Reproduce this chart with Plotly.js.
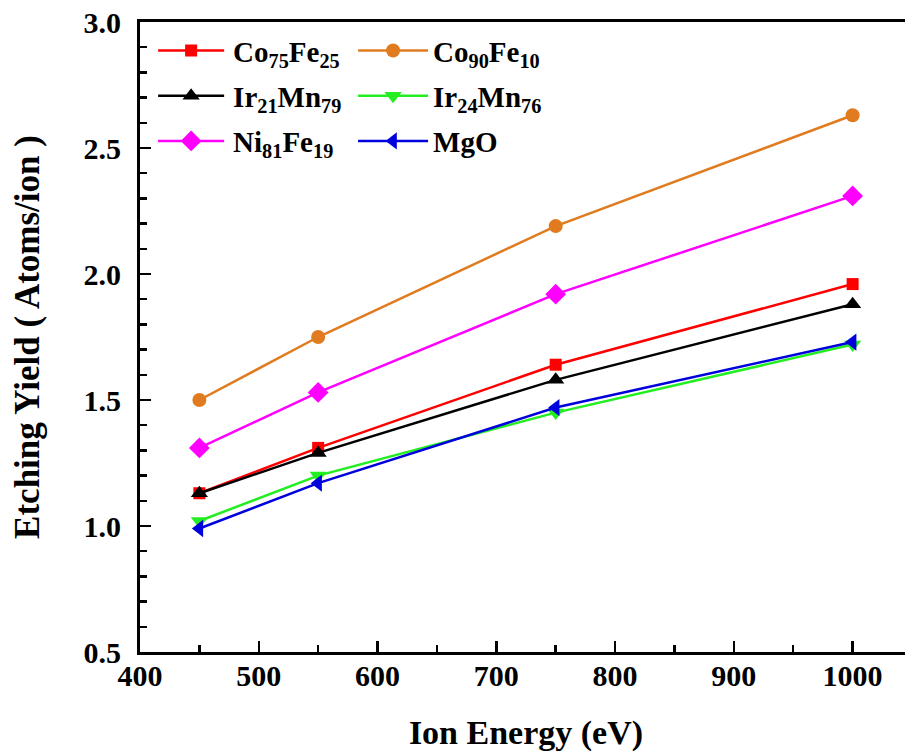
<!DOCTYPE html>
<html>
<head>
<meta charset="utf-8">
<script src="https://cdn.plot.ly/plotly-3.0.1.min.js"></script>
<style>
  html, body { margin: 0; padding: 0; overflow: hidden; background: #fff; }
  #chart { width: 920px; height: 756px; }
</style>
</head>
<body>
<div id="chart"></div>
<script>
// Ion energy (eV) at which the etching yield was measured
const ionEnergy = [450, 550, 750, 1000];

// Etching yield (atoms/ion) for each material
const co75fe25 = [1.13, 1.31, 1.64, 1.96];
const co90fe10 = [1.50, 1.75, 2.19, 2.63];
const ir21mn79 = [1.13, 1.29, 1.58, 1.88];
const ir24mn76 = [1.02, 1.20, 1.45, 1.72];
const ni81fe19 = [1.31, 1.53, 1.92, 2.31];
const mgo      = [0.99, 1.17, 1.47, 1.73];

const FONT = 'Liberation Serif';

function series(name, y, color, symbol, legend, size) {
  return {
    x: ionEnergy, y: y, name: name, type: 'scatter', mode: 'lines+markers',
    line: { color: color, width: 2.5 },
    marker: { color: color, symbol: symbol, size: size },
    legend: legend, legendgroup: name
  };
}

const traces = [
  series('Co<sub>75</sub>Fe<sub>25</sub>', co75fe25, '#ff0000', 'square', 'legend', 12),
  series('Ir<sub>21</sub>Mn<sub>79</sub>', ir21mn79, '#000000', 'triangle-up', 'legend', 15),
  series('Ni<sub>81</sub>Fe<sub>19</sub>', ni81fe19, '#ff00ff', 'diamond', 'legend', 16),
  series('Co<sub>90</sub>Fe<sub>10</sub>', co90fe10, '#e07b1f', 'circle', 'legend2', 14),
  series('Ir<sub>24</sub>Mn<sub>76</sub>', ir24mn76, '#22ee22', 'triangle-down', 'legend2', 15),
  series('MgO', mgo, '#0000dd', 'triangle-left', 'legend2', 15)
];

const legendStyle = {
  font: { family: FONT, size: 29, color: '#000', weight: 'bold' },
  bgcolor: 'rgba(0,0,0,0)', borderwidth: 0,
  yanchor: 'top', y: 0.995, xanchor: 'left',
  itemwidth: 70, tracegroupgap: 4.5
};

const layout = {
  width: 920, height: 756,
  margin: { l: 140, r: 8, t: 22, b: 104 },
  paper_bgcolor: '#fff', plot_bgcolor: '#fff',
  font: { family: FONT, color: '#000' },
  showlegend: true,
  legend: Object.assign({}, legendStyle, { x: 0.017 }),
  legend2: Object.assign({}, legendStyle, { x: 0.276 }),
  xaxis: {
    range: [400, 1050], dtick: 100, tick0: 400,
    ticks: 'inside', ticklen: 11, tickwidth: 2.5, tickcolor: '#000',
    minor: { dtick: 50, ticks: 'inside', ticklen: 7, tickwidth: 2.5, tickcolor: '#000' },
    showline: true, linewidth: 3, linecolor: '#000', mirror: true,
    showgrid: false, zeroline: false, ticklabelstandoff: -5,
    tickfont: { family: FONT, size: 30, weight: 'bold' },
    title: { text: 'Ion Energy (eV)', font: { family: FONT, size: 34, weight: 'bold' }, standoff: 30 }
  },
  yaxis: {
    range: [0.5, 3.0], dtick: 0.5, tick0: 0.5, tickformat: '.1f',
    ticks: 'inside', ticklen: 11, tickwidth: 2.5, tickcolor: '#000',
    minor: { dtick: 0.1, ticks: 'inside', ticklen: 7, tickwidth: 2.5, tickcolor: '#000' },
    showline: true, linewidth: 3, linecolor: '#000', mirror: true,
    showgrid: false, zeroline: false, ticklabelstandoff: 10,
    tickfont: { family: FONT, size: 30, weight: 'bold' },
    title: { text: 'Etching Yield ( Atoms/ion )', font: { family: FONT, size: 35, weight: 'bold' }, standoff: 34 }
  }
};

// Longer legend sample lines, with the marker centred on each line
function widenLegendSymbols() {
  document.querySelectorAll('.legend .legendlines path').forEach(p => p.setAttribute('d', 'M5,0h66'));
  document.querySelectorAll('.legend .legendpoints path').forEach(p => p.setAttribute('transform', 'translate(38,0)'));
}

Plotly.newPlot('chart', traces, layout, { displayModeBar: false, staticPlot: true }).then(widenLegendSymbols);
</script>
</body>
</html>
